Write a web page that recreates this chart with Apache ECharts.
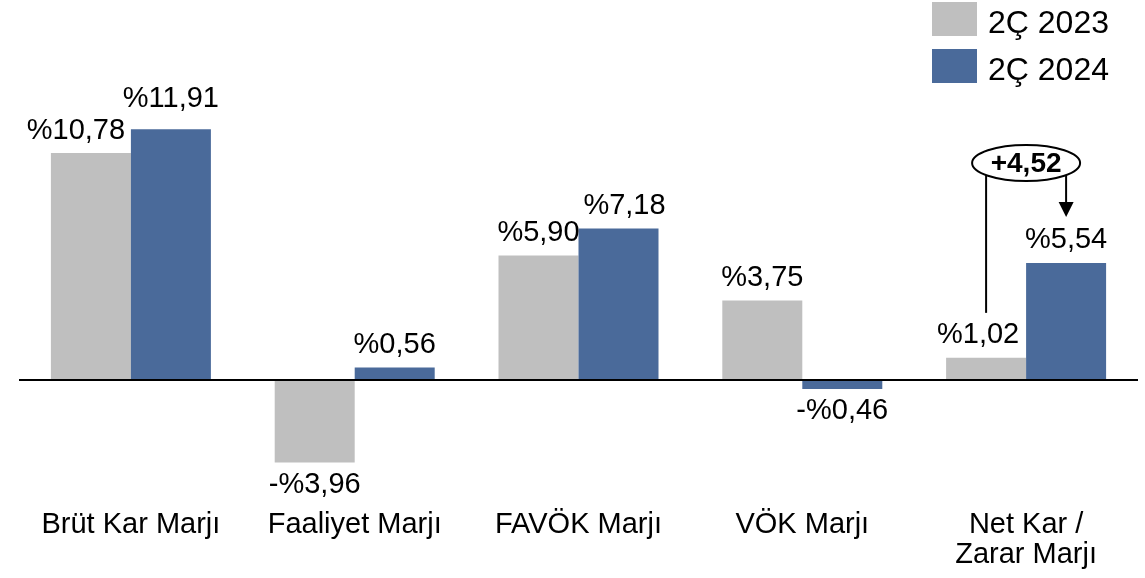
<!DOCTYPE html>
<html>
<head>
<meta charset="utf-8">
<script src="https://cdn.jsdelivr.net/npm/echarts@6/dist/echarts.min.js"></script>
<style>
html,body{margin:0;padding:0;background:#fff;}
#c{width:1145px;height:578px;}
</style>
</head>
<body>
<div id="c"></div>
<script>
// ---- data ----
const categories = ['Brüt Kar Marjı', 'Faaliyet Marjı', 'FAVÖK Marjı', 'VÖK Marjı', 'Net Kar /\nZarar Marjı'];
const seriesNames = ['2Ç 2023', '2Ç 2024'];
const values2023 = [10.78, -3.96, 5.90, 3.75, 1.02];
const values2024 = [11.91, 0.56, 7.18, -0.46, 5.54];
const changeText = '+4,52';
const changeIndex = 4;

// ---- presentation ----
const FONT = 'Liberation Sans, Arial, sans-serif';
const GRAY = '#BFBFBF';
const BLUE = '#4A6A9A';
const BAR_W = 80;
const labelTweak = [
  {0: {offset: [-15, 0]}, 4: {offset: [-8, 0]}},
  {0: {offset: [0, -8]}, 2: {offset: [6, 0]}}
];

function fmt(v) {
  const s = Math.abs(v).toFixed(2).replace('.', ',');
  return (v < 0 ? '-%' : '%') + s;
}

function buildData(vals, tweak) {
  return vals.map((v, i) => {
    const item = {value: v};
    const t = tweak[i] || {};
    item.label = Object.assign({position: v < 0 ? 'bottom' : 'top'}, t);
    return item;
  });
}

const labelBase = {
  show: true,
  distance: 8,
  fontSize: 29,
  lineHeight: 29,
  fontFamily: FONT,
  color: '#000',
  formatter: p => fmt(p.value)
};

const chart = echarts.init(document.getElementById('c'), null, {renderer: 'canvas'});

const option = {
  animation: false,
  backgroundColor: '#fff',
  legend: {
    orient: 'vertical',
    left: 932,
    top: -2,
    padding: 0,
    itemWidth: 45,
    itemHeight: 34,
    itemGap: 5,
    icon: 'rect',
    formatter: '{t|{name}}',
    textStyle: {
      fontSize: 32, lineHeight: 16, fontFamily: FONT, color: '#000',
      rich: {t: {fontSize: 32, fontFamily: FONT, color: '#000', lineHeight: 16, padding: [10, 0, 0, 6]}}
    },
    data: seriesNames
  },
  grid: {left: 19, right: 7, top: 127.4, bottom: 72.8, containLabel: false},
  xAxis: {
    type: 'category',
    data: categories,
    axisLine: {show: false},
    axisTick: {show: false},
    axisLabel: {interval: 0, fontSize: 29, lineHeight: 30, fontFamily: FONT, color: '#000', margin: 5}
  },
  yAxis: {type: 'value', min: -6, max: 12, show: false, splitLine: {show: false}},
  series: [
    {
      name: seriesNames[0], type: 'bar', barWidth: BAR_W, barGap: '0%',
      itemStyle: {color: GRAY},
      label: labelBase,
      data: buildData(values2023, labelTweak[0]),
      markLine: {
        silent: true, symbol: ['none', 'none'],
        label: {show: false},
        lineStyle: {color: '#000', width: 2, type: 'solid'},
        data: [{yAxis: 0}],
        z: 10
      }
    },
    {
      name: seriesNames[1], type: 'bar', barWidth: BAR_W, barGap: '0%',
      itemStyle: {color: BLUE},
      label: labelBase,
      data: buildData(values2024, labelTweak[1])
    }
  ]
};
chart.setOption(option);

// ---- change annotation, positioned from axis scales ----
const pA = chart.convertToPixel({xAxisIndex: 0, yAxisIndex: 0}, [changeIndex, values2023[changeIndex]]);
const pB = chart.convertToPixel({xAxisIndex: 0, yAxisIndex: 0}, [changeIndex, values2024[changeIndex]]);
const cx = pA[0];
const xA = cx - BAR_W / 2;
const xB = cx + BAR_W / 2;
const tipY = pB[1] - 46;
const cy = tipY - 54;
const rx = 54, ry = 18;
const lineTop = cy + 12;
chart.setOption({
  graphic: [
    {type: 'line', shape: {x1: xA, y1: lineTop, x2: xA, y2: pA[1] - 45}, style: {stroke: '#000', lineWidth: 2}, z: 100},
    {type: 'line', shape: {x1: xB, y1: lineTop, x2: xB, y2: tipY - 14}, style: {stroke: '#000', lineWidth: 2}, z: 100},
    {type: 'polygon', shape: {points: [[xB - 7.5, tipY - 15], [xB + 7.5, tipY - 15], [xB, tipY]]}, style: {fill: '#000'}, z: 100},
    {type: 'ellipse', shape: {cx: cx, cy: cy, rx: rx, ry: ry}, style: {fill: '#fff', stroke: '#000', lineWidth: 2}, z: 101},
    {type: 'text', x: cx, y: cy + 1, style: {text: changeText, font: 'bold 28px ' + FONT, fill: '#000', align: 'center', verticalAlign: 'middle'}, z: 102}
  ]
});
</script>
</body>
</html>
